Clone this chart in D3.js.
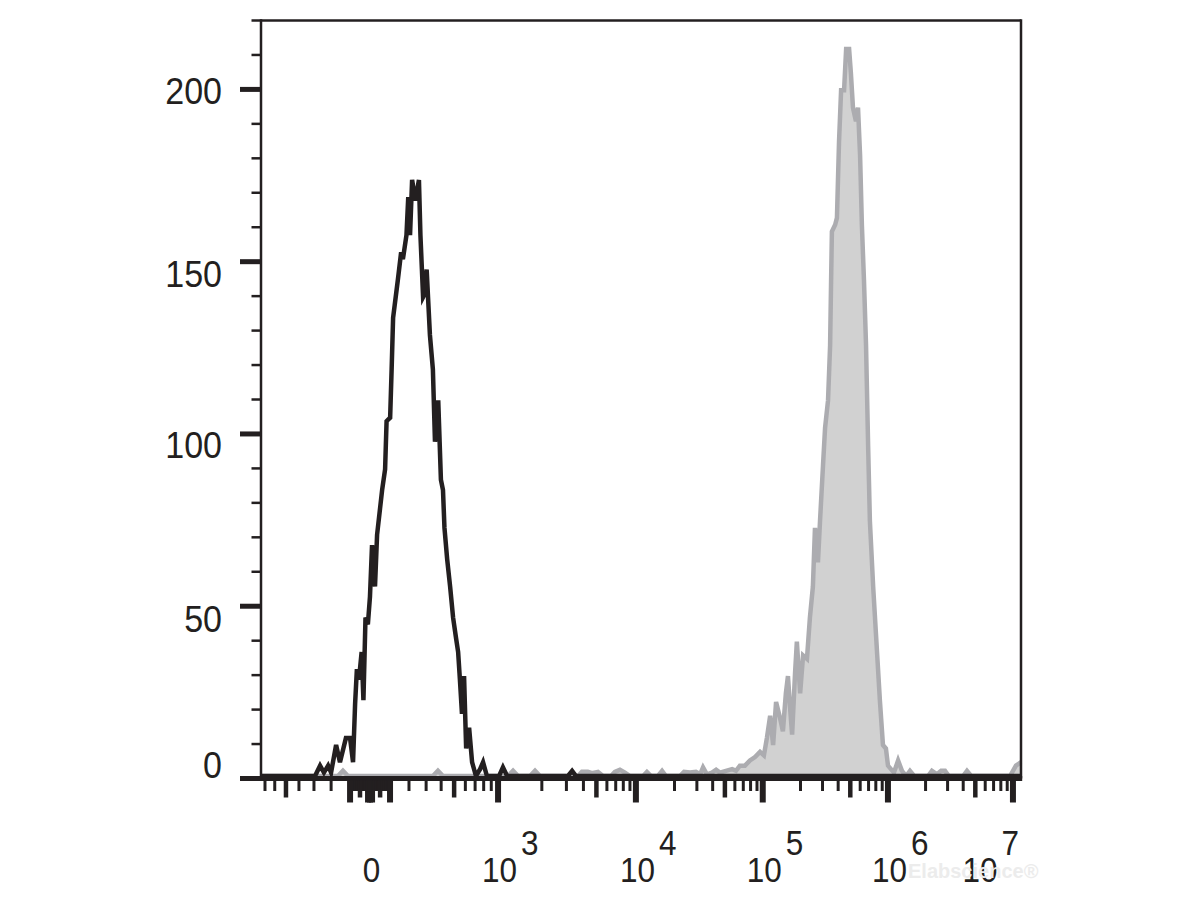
<!DOCTYPE html>
<html>
<head>
<meta charset="utf-8">
<script src="https://cdn.jsdelivr.net/npm/d3@7"></script>
<style>
  html, body { margin: 0; padding: 0; background: #ffffff; }
  svg { display: block; }
</style>
</head>
<body>
<svg id="chart" width="1200" height="900"></svg>
<script>
// ---------------- DATA ----------------
// Histogram bins on a 256-channel logicle display, with event counts.
// Stained sample (grey filled histogram)
const stainedChannels = [0, 25.9, 27.6, 29.3, 57.9, 59.6, 61.3, 83.2, 84.9, 86.6, 90.6, 92.3, 94.0,
  106.8, 108.1, 110.1, 111.5, 113.5, 115.2, 117.9, 119.2, 120.9, 122.6, 124.3, 128.7, 130.0, 131.4,
  133.7, 135.1, 136.4, 141.1, 142.5, 144.5, 146.5, 147.9, 148.9, 150.2, 151.9, 153.3, 154.6, 156.6,
  158.7, 160.0, 161.3, 163.0, 164.7, 166.4, 168.1, 169.4, 170.4, 171.5, 172.5, 173.5, 174.8, 175.8,
  176.8, 177.5, 178.2, 178.9, 179.9, 180.5, 181.6, 182.6, 183.9, 184.9, 185.9, 186.6, 187.6, 188.3,
  189.3, 190.0, 191.0, 191.7, 192.0, 192.3, 193.4, 194.0, 194.7, 195.4, 196.4, 197.1, 198.1, 198.7,
  199.4, 200.4, 201.1, 201.8, 202.4, 203.1, 203.8, 204.5, 205.1, 206.2, 207.5, 208.5, 209.5, 210.5,
  211.2, 212.2, 213.2, 214.6, 215.9, 217.3, 218.6, 220.0, 224.7, 226.0, 227.7, 229.1, 230.4, 231.7,
  236.5, 237.8, 239.2, 252.3, 254.3, 256];
const stainedCounts = [0, 0, 1.5, 0, 0, 1.5, 0, 0, 1.5, 0, 0, 1.5, 0,
  0, 1.2, 1.2, 0.8, 1.2, 0, 0, 1.2, 1.8, 1, 0, 0, 1.2, 0,
  0, 1.5, 0, 0, 1.2, 1, 1.2, 0.5, 2.5, 0.5, 1, 1.8, 1, 1.5,
  2, 1.5, 3, 3, 4.5, 5.5, 7, 6, 11, 17.5, 9, 21.5, 17, 13,
  24, 29, 20, 12, 30, 39, 24, 35, 34, 46, 55, 72, 62, 74,
  90, 101, 109, 125, 142, 158, 160, 162, 184, 199, 199, 211, 211, 204,
  194, 190, 194, 180, 160, 144, 125, 96, 74, 55, 36, 21.5, 9, 8,
  3, 2, 1, 4.5, 1.5, 0, 1.5, 0, 0, 1.5, 0.5, 1.5, 1.5, 0,
  0, 1.5, 0, 0, 3, 4];

// Control sample (black open histogram)
const controlChannels = [0, 18.2, 19.9, 21.2, 22.6, 23.6, 25.3, 26.6, 28.6, 30.0, 31.0, 31.7, 32.3,
  33.0, 33.9, 34.5, 35.2, 36.0, 36.7, 37.4, 38.4, 39.1, 40.8, 41.8, 42.3, 43.5, 44.0, 44.5, 46.1,
  47.2, 47.8, 49.0, 49.6, 50.2, 50.9, 52.0, 53.2, 53.7, 54.6, 55.2, 55.8, 56.9, 57.9, 58.6, 59.7,
  60.6, 61.3, 61.8, 62.7, 63.7, 64.7, 65.7, 66.4, 67.0, 67.7, 68.4, 69.1, 70.1, 71.1, 72.4, 73.8,
  74.8, 76.1, 80.2, 81.5, 82.9, 103.4, 104.8, 106.1, 256];
const controlCounts = [0, 0, 3, 1, 3, 1, 9, 4, 11, 11, 4, 21, 31,
  28, 36, 22, 46, 44, 52, 67, 55, 70, 83, 89, 103, 104, 118, 133, 144,
  152, 150, 157, 168, 157, 173, 167, 173, 157, 139, 140, 147, 128, 118, 97, 109,
  86, 83, 72, 63, 55, 46, 40, 36, 28, 18, 29, 8, 14, 4, 0, 2,
  4, 0, 0, 2.5, 0, 0, 1.5, 0, 0];

// Axes
const channelCount = 256;
const xDomain = [-745, 1.16e7];          // fluorescence range covered by the 256 channels
const yDomain = [0, 220];
const yTickValues = [0, 50, 100, 150, 200];
const yTickLabels = ["0", "50", "100", "150", "200"];
const xLabelValues = [0, 1e3, 1e4, 1e5, 1e6, 1e7];
const xLabelBases = ["0", "10", "10", "10", "10", "10"];
const xLabelExponents = ["", "3", "4", "5", "6", "7"];
const watermarkText = "Elabscience\u00AE";

// ---------------- LOGICLE TRANSFORM ----------------
const LG_A = 71.8, LG_P = 2.75;
function biex(u) {
  const a = Math.abs(u);
  const v = LG_A * (Math.exp(a) - LG_P * LG_P * Math.exp(-a / LG_P) + LG_P * LG_P - 1);
  return u < 0 ? -v : v;
}
function logicle(v) {
  let lo = -30, hi = 30;
  for (let i = 0; i < 120; i++) {
    const m = (lo + hi) / 2;
    if (biex(m) < v) lo = m; else hi = m;
  }
  return (lo + hi) / 2;
}
const uMin = logicle(xDomain[0]), uMax = logicle(xDomain[1]);
const channelOf = v => channelCount * (logicle(v) - uMin) / (uMax - uMin);

// ---------------- LAYOUT ----------------
const plot = { left: 261, right: 1021, top: 20.5, bottom: 778.5 };
const ink = "#231f20";
const font = "'Liberation Sans', Arial, Helvetica, sans-serif";

const svg = d3.select("#chart");
svg.append("rect").attr("width", 1200).attr("height", 900).attr("fill", "#ffffff");

const x = d3.scaleLinear().domain([0, channelCount]).range([plot.left, plot.right]);
const y = d3.scaleLinear().domain(yDomain).range([plot.bottom, plot.top]);

// ---------------- HISTOGRAMS ----------------
const stained = stainedChannels.map((c, i) => ({ c, n: stainedCounts[i] }));
const control = controlChannels.map((c, i) => ({ c, n: controlCounts[i] }));

const curves = svg.append("g").attr("transform", "translate(0,-2.5)");

curves.append("path")
  .datum(stained)
  .attr("d", d3.area().x(d => x(d.c)).y0(y(0)).y1(d => y(d.n)))
  .attr("fill", "#d1d1d1");
curves.append("path")
  .datum(stained)
  .attr("d", d3.line().x(d => x(d.c)).y(d => y(d.n)))
  .attr("fill", "none")
  .attr("stroke", "#acacb0")
  .attr("stroke-width", 4.5);

curves.append("path")
  .datum(control)
  .attr("d", d3.line().x(d => x(d.c)).y(d => y(d.n)))
  .attr("fill", "none")
  .attr("stroke", ink)
  .attr("stroke-width", 4.5);

// ---------------- FRAME ----------------
const frame = svg.append("g").attr("stroke", ink).attr("fill", "none");
frame.append("line").attr("x1", plot.left).attr("x2", plot.right).attr("y1", plot.top).attr("y2", plot.top).attr("stroke-width", 2.5);
frame.append("line").attr("x1", plot.right).attr("x2", plot.right).attr("y1", plot.top - 1.2).attr("y2", plot.bottom).attr("stroke-width", 2.5);
frame.append("line").attr("x1", plot.left).attr("x2", plot.left).attr("y1", plot.top - 1.2).attr("y2", plot.bottom).attr("stroke-width", 2.5);
// thick x axis line
frame.append("line").attr("x1", plot.left).attr("x2", plot.right + 1.2).attr("y1", plot.bottom).attr("y2", plot.bottom).attr("stroke-width", 5);

// ---------------- Y AXIS ----------------
const yMinor = d3.range(10, 221, 10).filter(v => v % 50 !== 0);
const yAxisG = svg.append("g");
yAxisG.selectAll("line.minor").data(yMinor).join("line")
  .attr("class", "minor")
  .attr("x1", plot.left - 9.5).attr("x2", plot.left)
  .attr("y1", d => y(d)).attr("y2", d => y(d))
  .attr("stroke", ink).attr("stroke-width", 2.5);
yAxisG.selectAll("line.major").data(yTickValues).join("line")
  .attr("class", "major")
  .attr("x1", plot.left - 21).attr("x2", plot.left)
  .attr("y1", d => y(d)).attr("y2", d => y(d))
  .attr("stroke", ink).attr("stroke-width", 5);

// vertical nudges of the tick labels relative to their ticks (as in the source image)
const yLabelNudge = { 0: -13.5, 50: 12.5, 100: 11, 150: 12.5, 200: 1 };
const yFont = 37, ySqueeze = 0.92;
yAxisG.selectAll("text").data(yTickValues).join("text")
  .attr("transform", d => `translate(222,${y(d) + yLabelNudge[d] + 0.358 * yFont}) scale(${ySqueeze},1)`)
  .attr("text-anchor", "end")
  .attr("font-family", font)
  .attr("font-size", yFont)
  .attr("fill", ink)
  .text((d, i) => yTickLabels[i]);

// ---------------- X AXIS (logicle) ----------------
const xTicks = [];
const vMin = xDomain[0], vMax = xDomain[1];
function pushTick(v, kind) { if (v >= vMin && v <= vMax) xTicks.push({ v, kind }); }
pushTick(0, "major");
for (let k = 1; k <= 7; k++) {
  const dec = Math.pow(10, k);
  [1, 2, 3, 4, 5, 6, 7, 8, 9].forEach(m => {
    const kind = m === 1 ? "major" : (m === 5 ? "medium" : "minor");
    pushTick(m * dec, kind);
    pushTick(-m * dec, kind);
  });
}
const tickLen = { major: 22, medium: 17, minor: 10.5 };
const tickW = { major: 6, medium: 4.5, minor: 3 };
const xAxisG = svg.append("g");
xAxisG.selectAll("line").data(xTicks).join("line")
  .attr("x1", d => x(channelOf(d.v))).attr("x2", d => x(channelOf(d.v)))
  .attr("y1", plot.bottom + 2).attr("y2", d => plot.bottom + 2 + tickLen[d.kind])
  .attr("stroke", ink)
  .attr("stroke-width", d => tickW[d.kind]);

// x labels
const xFont = 35, xSqueeze = 0.9;
const baseY = 881.5;
xLabelValues.forEach((v, i) => {
  const cx = x(channelOf(v)) + 1.5;
  const g = xAxisG.append("g");
  const base = g.append("text")
    .attr("transform", `translate(${cx},${baseY}) scale(${xSqueeze},1)`)
    .attr("text-anchor", "middle")
    .attr("font-family", font).attr("font-size", xFont).attr("fill", ink)
    .text(xLabelBases[i]);
  if (xLabelExponents[i]) {
    const bw = base.node().getComputedTextLength() * xSqueeze;
    const ex = g.append("text")
      .attr("transform", `translate(${cx + bw / 2 + 4},${baseY - 26.5}) scale(${xSqueeze},1)`)
      .attr("font-family", font).attr("font-size", xFont).attr("fill", ink)
      .text(xLabelExponents[i]);
    const ew = ex.node().getComputedTextLength() * xSqueeze;
    const overflow = (cx + bw / 2 + 4 + ew) - (plot.right - 2);
    if (overflow > 0) g.attr("transform", `translate(${-overflow},0)`);
  }
});

// faint watermark
svg.append("text")
  .attr("x", 908).attr("y", 878)
  .attr("font-family", font).attr("font-size", 20).attr("font-weight", "bold")
  .attr("fill", "#ececec")
  .text(watermarkText);
</script>
</body>
</html>
